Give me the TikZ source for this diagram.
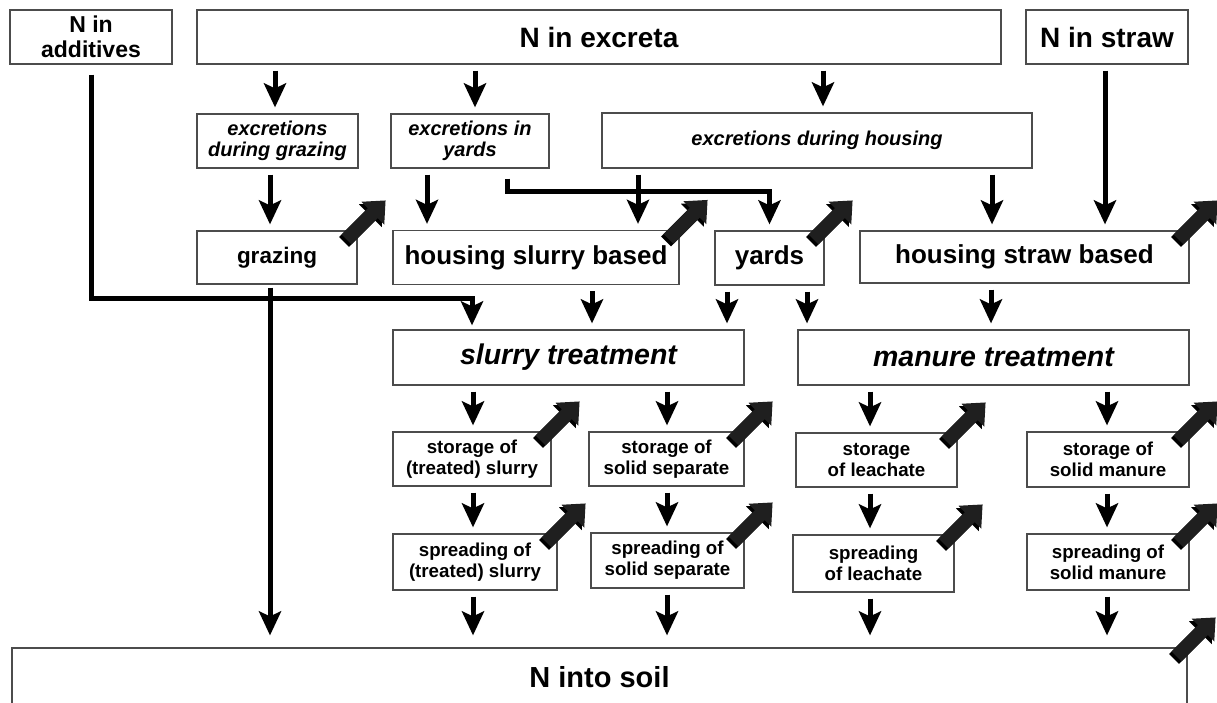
\documentclass[tikz,border=0pt]{standalone}
\usepackage{fontspec}
\setmainfont{Liberation Sans}
\usetikzlibrary{arrows.meta}
\newcommand{\fsz}[2]{\fontsize{#1}{#2}\selectfont}
\tikzset{
  box/.style    ={draw=black!70,line width=1.2pt,fill=white,align=center,
                  inner sep=0pt,font=\bfseries},
  srcbox/.style ={box,font=\fsz{28}{30}\bfseries},
  addbox/.style ={box,font=\fsz{23}{25}\bfseries},
  excbox/.style ={box,font=\fsz{20}{21.5}\bfseries\itshape},
  stgbox/.style ={box,font=\fsz{26}{28}\bfseries},
  trtbox/.style ={box,font=\fsz{28.5}{30}\bfseries\itshape},
  pbox/.style   ={box,font=\fsz{18.7}{21}\bfseries},
  flow/.style   ={draw=black,line width=5pt,
                  -{Stealth[length=24pt,width=22pt,inset=5pt]},
                  shorten <=6pt,shorten >=6pt},
  emis/.style   ={line width=14pt,-{Triangle[length=18pt,width=31pt]}},
}
\begin{document}
\begin{tikzpicture}[x=1pt,y=-1pt]
\useasboundingbox (0,0) rectangle (1217,702);

%% sources
\node[addbox,minimum width=162pt,minimum height=54pt] (add) at (91,37) {N in\\additives};
\node[srcbox,minimum width=804pt,minimum height=54pt] (exc) at (599,37) {N in excreta};
\node[srcbox,minimum width=162pt,minimum height=54pt] (str) at (1107,37) {N in straw};

%% excretions
\node[excbox,minimum width=161pt,minimum height=54pt] (egr) at (277.5,141) {excretions\\during grazing};
\node[excbox,minimum width=158pt,minimum height=54pt] (eyd) at (470,141) {excretions in\\yards};
\node[excbox,minimum width=430pt,minimum height=55pt] (ehs) at (817,140.5) {excretions during housing};

%% housing
\node[stgbox,font=\fsz{22.5}{24}\bfseries,minimum width=160pt,minimum height=53pt] (grz) at (277,257.5) {grazing};
\node[stgbox,minimum width=286pt,minimum height=54pt] (hsl) at (536,257.5) {housing slurry based};
\node[stgbox,minimum width=109pt,minimum height=54pt] (yrd) at (769.5,258) {yards};
\node[stgbox,minimum width=329pt,minimum height=52pt] (hst) at (1024.5,257) {housing straw based};

%% treatment
\node[trtbox,minimum width=351pt,minimum height=55pt] (slt) at (568.5,357.5) {slurry treatment};
\node[trtbox,minimum width=391pt,minimum height=55pt] (mnt) at (993.5,357.5) {manure treatment};

%% storage
\node[pbox,minimum width=158pt,minimum height=54pt] (sts) at (472,459) {storage of\\(treated) slurry};
\node[pbox,minimum width=155pt,minimum height=54pt] (sss) at (666.5,459) {storage of\\solid separate};
\node[pbox,minimum width=161pt,minimum height=54pt] (stl) at (876.5,460) {storage\\of leachate};
\node[pbox,minimum width=162pt,minimum height=55pt] (stm) at (1108,459.5) {storage of\\solid manure};

%% spreading
\node[pbox,minimum width=164pt,minimum height=56pt] (sps) at (475,562) {spreading of\\(treated) slurry};
\node[pbox,minimum width=153pt,minimum height=55pt] (spp) at (667.5,560.5) {spreading of\\solid separate};
\node[pbox,minimum width=161pt,minimum height=57pt] (spl) at (873.5,563.5) {spreading\\of leachate};
\node[pbox,minimum width=162pt,minimum height=56pt] (spm) at (1108,562) {spreading of\\solid manure};

%% sink
\node[srcbox,font=\fsz{29}{31}\bfseries,minimum width=1175pt,minimum height=58pt] (soil) at (599.5,677) {N into soil};

%% straight flows
\foreach \s/\t/\x in {exc/egr/275,exc/eyd/475,exc/ehs/823,egr/grz/270,
    eyd/hsl/427,ehs/hsl/638,ehs/hst/992,str/hst/1105,
    hsl/slt/592,yrd/slt/727,yrd/mnt/807,hst/mnt/991,
    slt/sts/473,slt/sss/667,mnt/stl/870,mnt/stm/1107,
    sts/sps/473,sss/spp/667,stl/spl/870,stm/spm/1107}
  \draw[flow] (\s.south -| \x,0) -- (\t.north -| \x,0);
\foreach \s/\x in {sps/473,spp/667,spl/870,spm/1107}
  \draw[flow,shorten >=12pt] (\s.south -| \x,0) -- (soil.north -| \x,0);

%% long flows
\draw[flow,shorten <=3pt,shorten >=12pt] (grz.south -| 270,0) -- (soil.north -| 270,0);
\draw[flow,shorten <=10pt,shorten >=4pt] (add.south) -- (add.south |- 0,298)
      -| (slt.north -| 472,0);
\draw[flow,shorten <=10pt] (eyd.south -| 507,0) |- (yrd.north |- 0,191) -- (yrd.north);

%% emissions
\foreach \b in {grz,hsl,yrd,hst,sts,sss,stl,stm,sps,spp,spl,spm,soil}{
  \draw[emis,draw=black] ([shift={(-13.5,11.5)}]\b.north east) -- ++(39,-39);
  \draw[emis,draw=black!88] ([shift={(-11,9)}]\b.north east) -- ++(39,-39);
}

\end{tikzpicture}
\end{document}
